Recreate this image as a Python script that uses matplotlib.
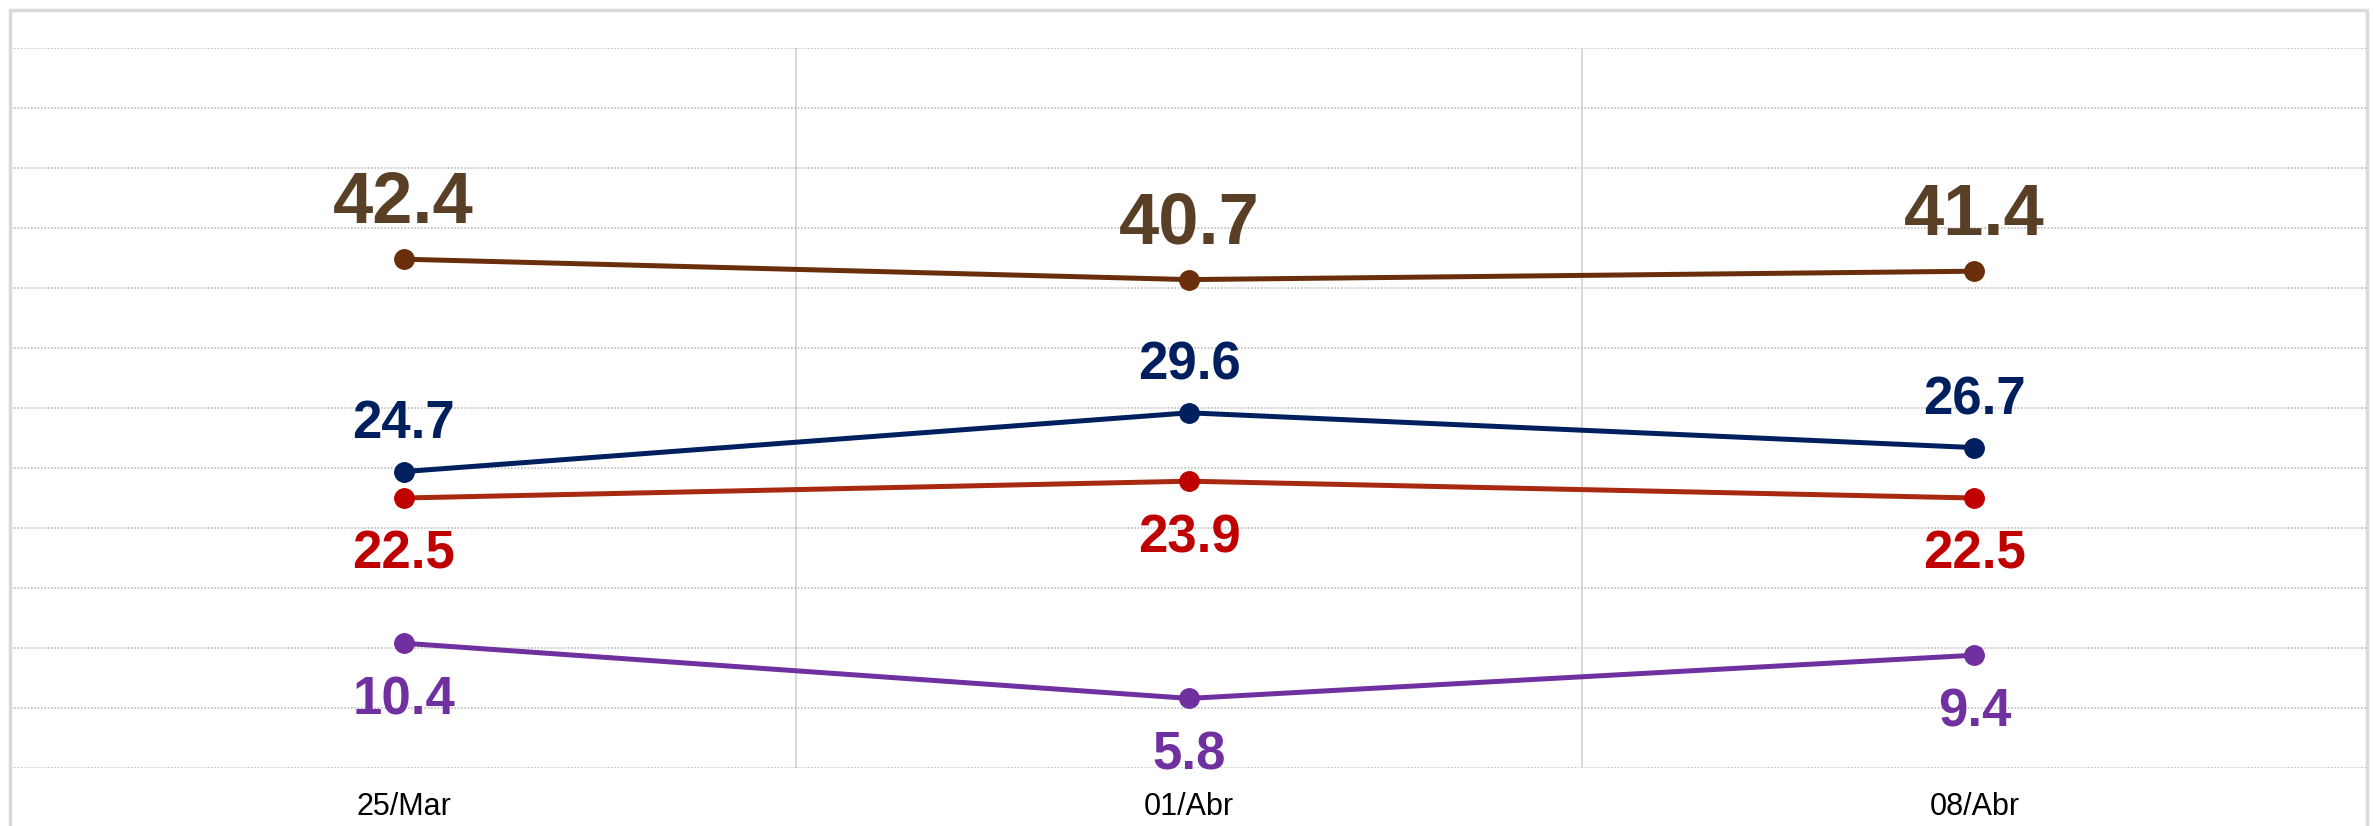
import matplotlib
matplotlib.use('Agg')
import matplotlib.pyplot as plt
from matplotlib.patches import Rectangle

plt.rcParams['font.family'] = ['Liberation Sans', 'DejaVu Sans']

# datos
fechas = ['25/Mar', '01/Abr', '08/Abr']
serie_cafe = [42.4, 40.7, 41.4]
serie_azul = [24.7, 29.6, 26.7]
serie_roja = [22.5, 23.9, 22.5]
serie_morada = [10.4, 5.8, 9.4]

W, H, DPI = 2374, 826, 100
fig = plt.figure(figsize=(W / DPI, H / DPI), dpi=DPI)

# marco exterior gris
fig.patches.append(Rectangle((10 / W, -0.1), 2357 / W, 1.1 - 10 / H, transform=fig.transFigure,
                             fill=False, edgecolor='#D9D9D9', linewidth=2.5))

ax = fig.add_axes([11 / W, (H - 768) / H, 2356 / W, 720 / H])
x = list(range(len(fechas)))

# (valores, color linea, color marcador, color etiqueta, tamaño, arriba/abajo)
series = [
    (serie_cafe, '#6B2E0C', '#6B2E0C', '#5A3F27', 52, True),
    (serie_azul, '#001F5F', '#001F5F', '#001F5F', 38, True),
    (serie_roja, '#A8290F', '#C00000', '#C00000', 38, False),
    (serie_morada, '#7030A0', '#7030A0', '#7030A0', 38, False),
]

for vals, lc, mc, tc, fs, arriba in series:
    ax.plot(x, vals, color=lc, linewidth=3.6, marker='o', markersize=14,
            markerfacecolor=mc, markeredgecolor=mc, zorder=3)
    for xi, v in zip(x, vals):
        if arriba:
            off = 26 if fs > 40 else 24
        else:
            off = -51
        ax.annotate(f'{v:.1f}', (xi, v), xytext=(0, off), textcoords='offset points',
                    ha='center', va='baseline', fontsize=fs, fontweight='bold', color=tc)

ax.set_xlim(-0.5, 2.5)
ax.set_ylim(0, 60)
ax.set_yticks(range(0, 61, 5))
ax.set_xticks(x)
ax.set_xticklabels(fechas, fontsize=22)
ax.set_xticks([0.5, 1.5], minor=True)
ax.tick_params(axis='x', which='both', length=0, pad=17)
ax.tick_params(axis='y', length=0, labelleft=False)

ax.grid(axis='y', which='major', color='#BFBFBF', linestyle=(0, (1, 1)), linewidth=1.2)
ax.grid(axis='x', which='minor', color='#D9D9D9', linestyle='-', linewidth=1.5)
ax.set_axisbelow(True)
for s in ax.spines.values():
    s.set_visible(False)

fig.savefig('out.png', dpi=DPI)
